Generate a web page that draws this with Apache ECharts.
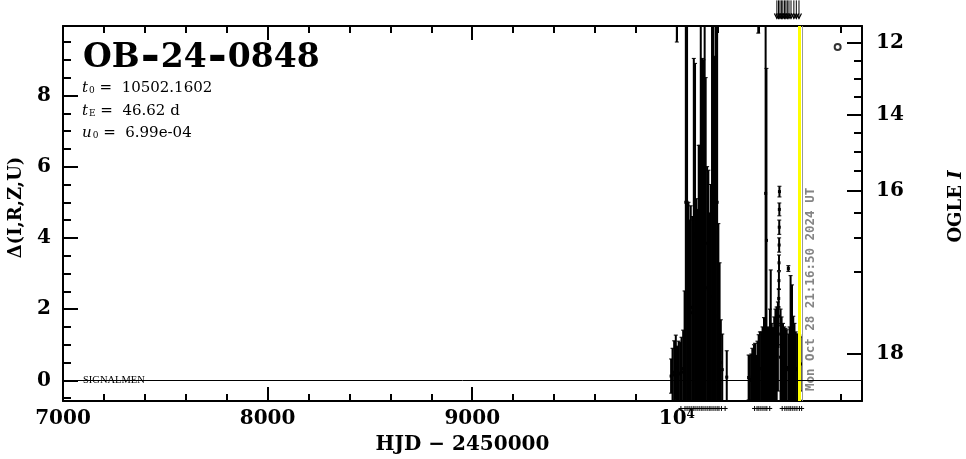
<!DOCTYPE html>
<html><head><meta charset="utf-8">
<script src="https://cdn.jsdelivr.net/npm/echarts@6/dist/echarts.min.js"></script>
<style>html,body{margin:0;padding:0;background:#fff}#c{width:966px;height:459px}</style>
</head><body><div id="c"></div>
<script>
// ---- axis ticks / labels ----
const xMajorTicks = [7000, 8000, 9000, 10000];
const xMinorTicks = [7200,7400,7600,7800,8200,8400,8600,8800,9200,9400,9600,9800,10200,10400,10600,10800];
const yMajorTicks = [0, 2, 4, 6, 8];
const yMinorTicks = [-0.5,0.5,1,1.5,2.5,3,3.5,4.5,5,5.5,6.5,7,7.5,8.5,9,9.5];
const ogleMajorMags = [12, 14, 16, 18];
const ogleMinorMags = [12.5,13,13.5,14.5,15,15.5,16.5,17,17.5];
const ogleBaseMag = 18.045;   // baseline I magnitude
const ogleBlend = 0.042;      // source flux fraction

// ---- photometry (HJD-2450000, Δ, error) ----
const hjd = [
  9972,9979,9987,9995,10000,10001,10009,10016,10023,10031,10038,10044,10050,10057,10062,10068,10075,10083,10089,10096,10102,10107,10113,10117,10123,10130,10136,10141,10148,10154,10160,10166,10172,10179,10185,10191,10197,10203,10209,10215,10222,10244,
  10351,10357,10364,10369,10377,10382,10388,10394,10398,10400,10406,10413,10419,10426,10434,10438,10443,10449,10455,10459,10464,10470,10476,10482,10488,10494,
  10496,10497,10498,10499,10499.5,10500,10500.5,10501,10501.5,
  10507,10512,10519,10525,10531,10537,10545,10546,10551,10556,10563,10569,10575,10581,10588,10594,10599,10605];
const delta = [
  0.12,0.15,0.23,0.36,10.80,0.13,0.20,0.18,0.23,0.33,0.88,5.00,5.00,2.10,1.85,2.05,1.90,4.12,4.05,2.15,2.00,2.90,2.90,5.00,4.12,4.10,5.00,3.85,2.60,2.55,1.95,2.35,5.00,5.00,4.15,5.00,5.00,1.80,1.25,0.50,0.30,0.09,
  0.08,0.00,0.02,0.10,0.15,0.17,0.00,0.20,10.63,0.29,0.33,0.33,0.40,0.53,5.25,3.93,0.40,0.39,0.65,1.20,0.45,0.39,0.54,0.65,0.68,0.95,
  1.30,1.80,2.30,2.80,3.30,3.80,4.30,4.80,5.30,
  0.65,0.54,0.45,0.40,0.38,0.36,3.14,0.30,0.40,1.12,0.99,0.55,0.45,0.33,0.30,0.30,0.36,0.46];
const err = [
  0.48,0.75,0.88,0.91,1.30,0.83,0.90,0.88,0.98,1.08,1.63,6.00,6.00,2.90,2.65,2.85,2.70,4.92,4.85,2.95,2.80,3.70,3.70,6.00,4.92,4.90,6.00,4.65,3.40,3.35,2.75,3.15,6.00,6.00,4.95,6.00,6.00,2.60,2.05,1.20,1.00,0.74,
  0.63,0.70,0.72,0.80,0.85,0.87,0.70,0.90,0.88,0.99,1.03,1.03,1.10,1.23,6.25,4.83,1.10,1.09,1.35,1.90,1.15,1.09,1.24,1.35,1.38,1.25,
  0.30,0.27,0.27,0.25,0.22,0.20,0.20,0.18,0.15,
  1.35,1.24,1.15,1.10,1.08,1.06,0.08,1.00,1.10,1.82,1.69,1.25,1.15,1.03,1.00,1.00,0.91,0.76];

// off-scale points (arrows above the frame)
const offScaleHjd = [10489,10497,10504,10511,10518,10526,10533,10540,10548,10558,10572,10584,10597];
// other-site observation epochs (+ marks under the frame)
const otherObsHjd = [10020,10040,10050,10060,10070,10080,10089,10099,10109,10119,10128,10138,10148,10158,10167,10177,10187,10197,10206,10218,10236,
  10380,10392,10401,10411,10421,10431,10440,10454,
  10515,10528,10538,10548,10557,10567,10577,10587,10599,10610];
const yellowLineHjd = 10600;
const nowLineHjd = 10612.39;
const ogleMark = [[10786, 9.36]];

const xMin = 7000, xMax = 10905, yMin = -0.58, yMax = 9.95;
const arrowTip = 10.16, arrowTail = 10.67, plusLevel = -0.79;

function magToDelta(m) {
  const A = 1 + (Math.pow(10, 0.4 * (ogleBaseMag - m)) - 1) / ogleBlend;
  return 2.5 * Math.log10(A);
}
const ogleMajorPos = ogleMajorMags.map(magToDelta);
const ogleMinorPos = ogleMinorMags.map(magToDelta);

const FONT = 'DejaVu Serif';
const tickLbl = {color:'#000', fontFamily:FONT, fontWeight:'bold', fontSize:20};

function xAxisDef(pos, major) {
  return {
    type:'value', position:pos, min:xMin, max:xMax,
    axisLine:{show:major, onZero:false, lineStyle:{color:'#000', width:2}},
    axisTick:{show:true, inside:true, length: major?14:7, customValues: major?xMajorTicks:xMinorTicks, lineStyle:{color:'#000', width:2}},
    axisLabel: (pos==='bottom' && major) ? Object.assign({show:true, customValues:xMajorTicks, margin:8,
        formatter: v => v === 10000 ? '{b|10}{s|4}' : String(v),
        rich:{b:{fontFamily:FONT, fontWeight:'bold', fontSize:20, color:'#000'},
              s:{fontFamily:FONT, fontWeight:'bold', fontSize:12, color:'#000', verticalAlign:'top'}}}, tickLbl) : {show:false},
    splitLine:{show:false}, minorTick:{show:false}
  };
}
function yAxisDef(pos, major) {
  const left = pos === 'left';
  const ticks = left ? (major?yMajorTicks:yMinorTicks) : (major?ogleMajorPos:ogleMinorPos);
  const a = {
    type:'value', position:pos, min:yMin, max:yMax,
    axisLine:{show:major, onZero:false, lineStyle:{color:'#000', width:2}},
    axisTick:{show:true, inside:true, length: major?15:8, customValues:ticks, lineStyle:{color:'#000', width:2}},
    axisLabel:{show:false}, splitLine:{show:false}, minorTick:{show:false}
  };
  if (major) {
    a.axisLabel = Object.assign({show:true, customValues:ticks, margin: left?12:14,
      formatter: left ? (v => String(v)) : (v => {
        let bi = 0; ogleMajorPos.forEach((p,i)=>{ if (Math.abs(p-v) < Math.abs(ogleMajorPos[bi]-v)) bi = i; });
        return String(ogleMajorMags[bi]); })}, tickLbl);
    a.nameLocation = 'middle'; a.nameRotate = 90;
    if (left) {
      a.name = 'Δ(I,R,Z,U)'; a.nameGap = 38;
      a.nameTextStyle = {fontFamily:FONT, fontWeight:'bold', fontSize:18, color:'#000', padding:[0,0,0,12]};
    } else {
      a.name = '{b|OGLE }{i|I}'; a.nameGap = 85;
      a.nameTextStyle = {fontFamily:FONT, fontWeight:'bold', fontSize:18, color:'#000', padding:[0,0,0,14],
        rich:{b:{fontFamily:FONT, fontWeight:'bold', fontSize:18, color:'#000'},
              i:{fontFamily:FONT, fontWeight:'bold', fontStyle:'italic', fontSize:18, color:'#000'}}};
    }
  }
  return a;
}

const xa0 = xAxisDef('bottom', true);
xa0.name = 'HJD − 2450000'; xa0.nameLocation = 'middle'; xa0.nameGap = 34;
xa0.nameTextStyle = {fontFamily:FONT, fontWeight:'bold', fontSize:20, color:'#000'};

const chart = echarts.init(document.getElementById('c'), null, {renderer:'canvas'});
const paramStyle = {
  i:{fontFamily:FONT, fontStyle:'italic', fontSize:15, color:'#000'},
  s:{fontFamily:FONT, fontSize:9, color:'#000', verticalAlign:'bottom', padding:[0,0,0,1]},
  n:{fontFamily:FONT, fontSize:15, color:'#000'}
};
chart.setOption({
  animation:false,
  backgroundColor:'#fff',
  grid:{left:63, right:104, top:26, bottom:58, outerBoundsMode:'none', containLabel:false},
  xAxis:[xa0, xAxisDef('bottom', false), xAxisDef('top', true), xAxisDef('top', false)],
  yAxis:[yAxisDef('left', true), yAxisDef('left', false), yAxisDef('right', true), yAxisDef('right', false)],
  series:[
    { // reference lines
      type:'line', xAxisIndex:0, yAxisIndex:0, data:[], z:1, silent:true,
      markLine:{silent:true, symbol:['none','none'], label:{show:false}, animation:false,
        data:[
          {xAxis:yellowLineHjd, lineStyle:{color:'#ffff00', width:3, type:'solid'}},
          {xAxis:nowLineHjd, lineStyle:{color:'#999999', width:1, type:'solid'}},
          {yAxis:0, lineStyle:{color:'#000', width:1, type:'solid'}}
        ]}
    },
    { // error bars
      type:'custom', xAxisIndex:0, yAxisIndex:0, clip:true, z:3, silent:true,
      data: hjd.map((t,i) => [t, delta[i], err[i]]),
      encode:{x:0, y:1},
      renderItem:(params, api) => {
        const t = api.value(0), v = api.value(1), e = api.value(2);
        const lo = api.coord([t, v - e]), hi = api.coord([t, v + e]), c = api.coord([t, v]);
        return {type:'group', children:[
          {type:'line', shape:{x1:lo[0], y1:lo[1], x2:hi[0], y2:hi[1]}, style:{stroke:'#000', lineWidth:2}},
          {type:'line', shape:{x1:lo[0]-2, y1:lo[1], x2:lo[0]+2, y2:lo[1]}, style:{stroke:'#000', lineWidth:1}},
          {type:'line', shape:{x1:hi[0]-2, y1:hi[1], x2:hi[0]+2, y2:hi[1]}, style:{stroke:'#000', lineWidth:1}},
          {type:'rect', shape:{x:c[0]-1.5, y:c[1]-1.5, width:3, height:3}, style:{fill:'#000'}}
        ]};
      }
    },
    { // arrows for off-scale points
      type:'custom', xAxisIndex:0, yAxisIndex:0, clip:false, z:4, silent:true,
      data: offScaleHjd.map(t => [t, arrowTip]),
      encode:{x:0, y:1},
      renderItem:(params, api) => {
        const t = api.value(0);
        const tip = api.coord([t, arrowTip]), tail = api.coord([t, arrowTail]);
        return {type:'group', children:[
          {type:'line', shape:{x1:tail[0], y1:tail[1], x2:tip[0], y2:tip[1]}, style:{stroke:'#000', lineWidth:1}},
          {type:'polyline', shape:{points:[[tip[0]-2.5, tip[1]-5],[tip[0], tip[1]],[tip[0]+2.5, tip[1]-5]]}, style:{stroke:'#000', fill:null, lineWidth:1.2}}
        ]};
      }
    },
    { // other observatory epochs
      type:'custom', xAxisIndex:0, yAxisIndex:0, clip:false, z:4, silent:true,
      data: otherObsHjd.map(t => [t, plusLevel]),
      encode:{x:0, y:1},
      renderItem:(params, api) => {
        const p = api.coord([api.value(0), plusLevel]);
        return {type:'group', children:[
          {type:'line', shape:{x1:p[0]-2.5, y1:p[1], x2:p[0]+2.5, y2:p[1]}, style:{stroke:'#000', lineWidth:1}},
          {type:'line', shape:{x1:p[0], y1:p[1]-2.5, x2:p[0], y2:p[1]+2.5}, style:{stroke:'#000', lineWidth:1}}
        ]};
      }
    },
    { // OGLE marker
      type:'scatter', xAxisIndex:0, yAxisIndex:0, z:4, silent:true,
      data: ogleMark, symbol:'circle', symbolSize:6,
      itemStyle:{color:'#fff', borderColor:'#000', borderWidth:2}
    }
  ],
  graphic:[
    {type:'text', x:83, y:58, silent:true, style:{
      text:'{a|OB}{d|-}{a|24}{d|-}{a|0848}', textVerticalAlign:'middle',
      rich:{a:{fontFamily:FONT, fontWeight:'bold', fontSize:33, color:'#000'},
            d:{fontFamily:FONT, fontWeight:'bold', fontSize:46, color:'#000', padding:[0,1,0,1]}}}},
    {type:'text', x:82, y:88, silent:true, style:{text:'{i|t}{s|0}{n| =  10502.1602}', textVerticalAlign:'middle', rich:paramStyle}},
    {type:'text', x:82, y:111, silent:true, style:{text:'{i|t}{s|E}{n| =  46.62 d}', textVerticalAlign:'middle', rich:paramStyle}},
    {type:'text', x:82, y:133, silent:true, style:{text:'{i|u}{s|0}{n| =  6.99e-04}', textVerticalAlign:'middle', rich:paramStyle}},
    {type:'text', x:83, y:380, silent:true, style:{text:'SIGNALMEN', fontFamily:'Liberation Serif', fontSize:10.5, fill:'#000', textVerticalAlign:'middle'}},
    {type:'text', x:811, y:391, rotation:Math.PI/2, silent:true, style:{text:'Mon Oct 28 21:16:50 2024 UT', fontFamily:'DejaVu Sans Mono', fontWeight:'bold', fontSize:12.5, fill:'#858585', textAlign:'left', textVerticalAlign:'middle'}}
  ]
});
</script>
</body></html>
